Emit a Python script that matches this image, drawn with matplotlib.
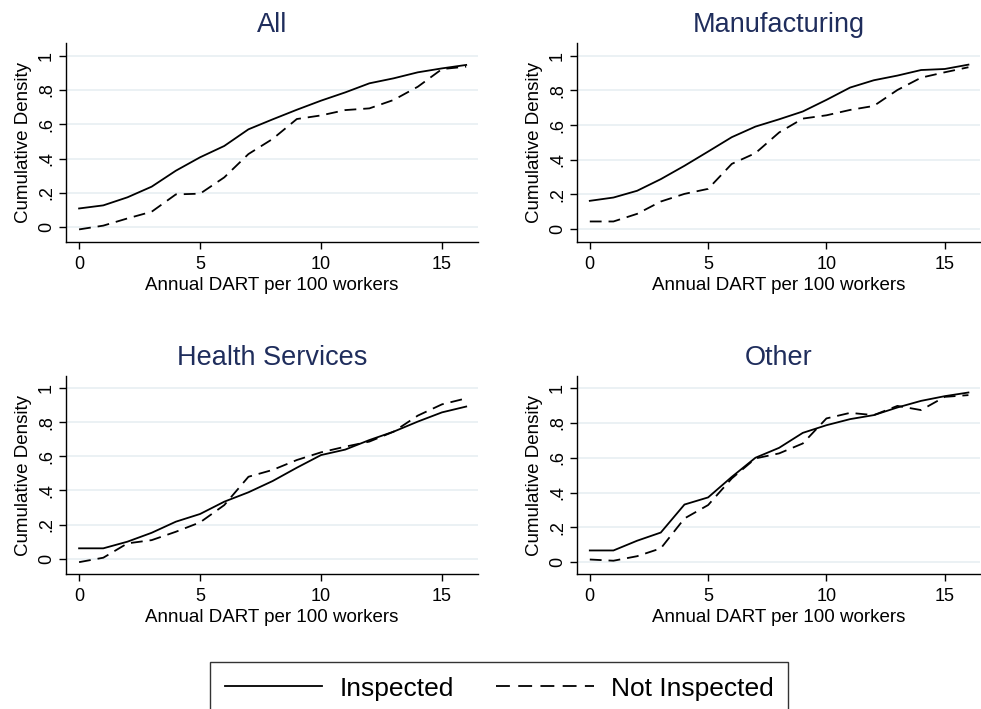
import numpy as np
import matplotlib
matplotlib.use("Agg")
import matplotlib.pyplot as plt
from matplotlib.lines import Line2D

plt.rcParams['font.family'] = ['Liberation Sans', 'DejaVu Sans']
plt.rcParams['lines.scale_dashes'] = False

dart = list(range(17))

all_insp = [0.110, 0.128, 0.175, 0.237, 0.330, 0.408, 0.474, 0.571, 0.629,
            0.685, 0.738, 0.786, 0.839, 0.868, 0.903, 0.926, 0.946]
all_not = [-0.012, 0.010, 0.052, 0.091, 0.192, 0.196, 0.291, 0.427, 0.515,
           0.631, 0.652, 0.683, 0.693, 0.742, 0.819, 0.922, 0.936]

mfg_insp = [0.163, 0.182, 0.221, 0.288, 0.365, 0.447, 0.530, 0.591, 0.633,
            0.678, 0.745, 0.816, 0.858, 0.885, 0.917, 0.923, 0.948]
mfg_not = [0.044, 0.044, 0.088, 0.159, 0.203, 0.232, 0.376, 0.438, 0.557,
           0.637, 0.656, 0.687, 0.710, 0.802, 0.873, 0.904, 0.933]

hlth_insp = [0.061, 0.061, 0.100, 0.152, 0.217, 0.262, 0.334, 0.389, 0.455,
             0.533, 0.607, 0.639, 0.695, 0.744, 0.803, 0.857, 0.891]
hlth_not = [-0.020, 0.006, 0.090, 0.109, 0.158, 0.213, 0.314, 0.480, 0.520,
            0.578, 0.623, 0.656, 0.686, 0.744, 0.838, 0.904, 0.939]

oth_insp = [0.067, 0.067, 0.123, 0.170, 0.331, 0.372, 0.490, 0.600, 0.657,
            0.743, 0.787, 0.822, 0.845, 0.889, 0.927, 0.954, 0.975]
oth_not = [0.015, 0.008, 0.034, 0.079, 0.251, 0.328, 0.481, 0.596, 0.625,
           0.682, 0.826, 0.858, 0.845, 0.898, 0.874, 0.950, 0.960]

panels = [
    ("All", all_insp, all_not),
    ("Manufacturing", mfg_insp, mfg_not),
    ("Health Services", hlth_insp, hlth_not),
    ("Other", oth_insp, oth_not),
]

yticks = [0, 0.2, 0.4, 0.6, 0.8, 1.0]
ytick_labels = ["0", ".2", ".4", ".6", ".8", "1"]
xticks = [0, 5, 10, 15]

# axes rectangles [left, bottom, width, height] and y limits per panel
rects = [
    [0.0673, 0.659, 0.420, 0.2804],
    [0.5882, 0.659, 0.4108, 0.2804],
    [0.0673, 0.190, 0.420, 0.2797],
    [0.5882, 0.190, 0.4108, 0.2797],
]
ylims = [(-0.084, 1.074), (-0.073, 1.073), (-0.091, 1.07), (-0.07, 1.07)]

title_color = '#1f2d5c'
grid_color = '#e6eef1'
lw = 1.3
dash = (0, (8.5, 5))

fig = plt.figure(figsize=(9.81, 7.09), dpi=100)

for (name, insp, notinsp), rect, ylim in zip(panels, rects, ylims):
    ax = fig.add_axes(rect)
    for y in yticks:
        ax.axhline(y, color=grid_color, linewidth=1.1, zorder=0)
    ax.plot(dart, insp, color='black', linewidth=lw, solid_joinstyle='miter')
    ax.plot(dart, notinsp, color='black', linewidth=lw, linestyle=dash)
    ax.set_xlim(-0.54, 16.49)
    ax.set_ylim(*ylim)
    ax.set_xticks(xticks)
    ax.set_yticks(yticks)
    ax.set_yticklabels(ytick_labels, rotation=90, va='center')
    ax.tick_params(axis='both', direction='out', length=5, width=1,
                   labelsize=13)
    ax.tick_params(axis='y', pad=3)
    ax.tick_params(axis='x', pad=5)
    for side in ['top', 'right']:
        ax.spines[side].set_visible(False)
    ax.spines['left'].set_linewidth(1)
    ax.spines['bottom'].set_linewidth(1)
    ax.set_title(name, fontsize=19.5, color=title_color, pad=8)
    ax.set_xlabel("Annual DART per 100 workers", fontsize=13.5, labelpad=3)
    ax.set_ylabel("Cumulative Density", fontsize=13.5, labelpad=4)

handles = [
    Line2D([], [], color='black', linewidth=lw),
    Line2D([], [], color='black', linewidth=lw, linestyle=(0, (10, 6))),
]
leg = fig.legend(handles, ["Inspected", "Not Inspected"], ncol=2,
                 loc='upper center', bbox_to_anchor=(0.5087, 0.0663),
                 fontsize=19, frameon=True, fancybox=False,
                 handlelength=3.7, handletextpad=0.65, columnspacing=1.6,
                 borderpad=0.55, borderaxespad=0)
leg.get_frame().set_edgecolor('black')
leg.get_frame().set_linewidth(1)

fig.savefig("out.png", dpi=100)
